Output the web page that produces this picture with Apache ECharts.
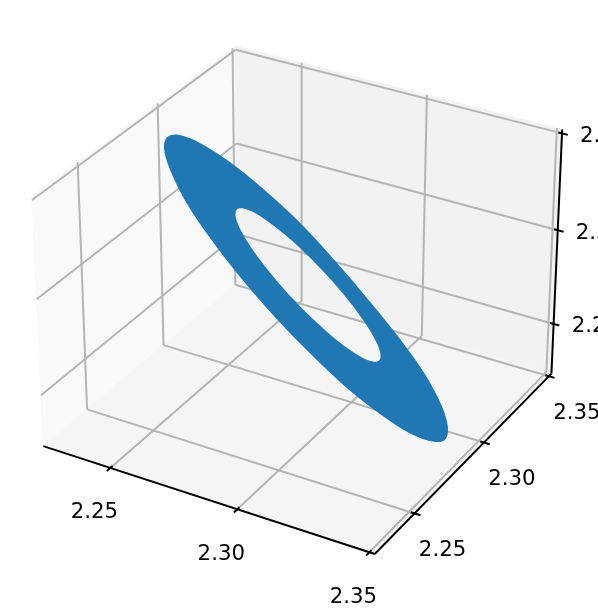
<!DOCTYPE html>
<html>
<head>
<meta charset="utf-8">
<style>
  html, body { margin: 0; padding: 0; background: #fff; }
  #chart { width: 598px; height: 609px; }
</style>
<script src="https://cdn.jsdelivr.net/npm/echarts@6/dist/echarts.min.js"></script>
</head>
<body>
<div id="chart"></div>
<script>
// tick values shared by the three axes
const xTicks = [2.25, 2.30, 2.35];
const yTicks = [2.25, 2.30, 2.35];
const zTicks = [2.25, 2.30, 2.35];
const xTickLabels = ['2.25', '2.30', '2.35'];
const yTickLabels = ['2.25', '2.30', '2.35'];
const zTickLabels = ['2.25', '2.30', '2.35'];
const axisMin = 2.2228;
const axisMax = 2.352;

// ring outline, on the hidden plane axes
const ringOuterX = [444.8, 447.9, 441.3, 425.5, 401.6, 371.1, 336.2, 299.3, 262.8, 229.3, 200.9, 179.7, 167.2, 164.1, 170.7, 186.5, 210.4, 240.9, 275.8, 312.7, 349.2, 382.7, 411.1, 432.3];
const ringOuterY = [440, 427, 404.8, 375, 341, 303, 262, 222, 188.4, 161.6, 143.4, 135, 137.1, 149.4, 171.2, 203, 238.5, 278, 318, 356, 390, 416, 434, 441.5];
const ringHoleX = [379, 380.5, 377, 368.7, 356.4, 340.8, 322.9, 304, 285.4, 268.3, 254, 243.3, 237, 235.5, 239, 247.3, 259.6, 275.2, 293.1, 312, 330.6, 347.7, 362, 372.7];
const ringHoleY = [360.5, 354.3, 343.4, 328.5, 310.7, 291.1, 271, 251.9, 235.1, 221.7, 212.6, 208.5, 209.5, 215.7, 226.6, 241.5, 259.3, 278.9, 299, 318.1, 334.9, 348.3, 357.4, 361.5];

const BLUE = '#1f77b4';
const GRID = '#b4b4b4';
const LINE_W = 2;
const FONT = '21.3px "DejaVu Sans"';
const tickIn = 0.0014;
const tickOut = 0.0022;

// same camera as a default mplot3d view: elev 30, azim -60, dist 10, box 4:4:3
const box = [1.143, 1.143, 0.857];
const camU = [0.866, 0.5, 0];
const camV = [-0.25, 0.433, 0.866];
const camW = [0.433, -0.75, 0.5];
const scaleX = 332.3, offX = 301.9, scaleY = 332.9, offY = 288.3;

function project(x, y, z) {
    const q = [x, y, z].map((v, i) => ((v - axisMin) / (axisMax - axisMin) - 0.5) * box[i]);
    const dot = (a) => a[0] * q[0] + a[1] * q[1] + a[2] * q[2];
    const f = 10 / (10 - dot(camW));
    return [offX + scaleX * dot(camU) * f, offY - scaleY * dot(camV) * f];
}

const lo = axisMin, hi = axisMax;

const panes = [
    { fill: '#f9f9f9', pts: [[lo, lo, lo], [lo, hi, lo], [lo, hi, hi], [lo, lo, hi]] },
    { fill: '#f2f2f2', pts: [[lo, hi, lo], [hi, hi, lo], [hi, hi, hi], [lo, hi, hi]] },
    { fill: '#f5f5f5', pts: [[lo, lo, lo], [hi, lo, lo], [hi, hi, lo], [lo, hi, lo]] }
];

const gridSegments = [];
xTicks.forEach(t => {
    gridSegments.push([[t, lo, lo], [t, hi, lo]], [[t, hi, lo], [t, hi, hi]]);
});
yTicks.forEach(t => {
    gridSegments.push([[lo, t, lo], [hi, t, lo]], [[lo, t, lo], [lo, t, hi]]);
});
zTicks.forEach(t => {
    gridSegments.push([[lo, lo, t], [lo, hi, t]], [[lo, hi, t], [hi, hi, t]]);
});

const axisSegments = [
    [[lo, lo, lo], [hi, lo, lo]],
    [[hi, lo, lo], [hi, hi, lo]],
    [[hi, hi, lo], [hi, hi, hi]]
];
xTicks.forEach(t => axisSegments.push([[t, lo - tickOut, lo], [t, lo + tickIn, lo]]));
yTicks.forEach(t => axisSegments.push([[hi - tickIn, t, lo], [hi + tickOut, t, lo]]));
zTicks.forEach(t => axisSegments.push([[hi - tickIn, hi, t], [hi + tickOut, hi, t]]));

const tickTexts = [];
xTicks.forEach((t, i) => tickTexts.push({ p: [t, lo, lo], text: xTickLabels[i], dx: -16, dy: 45, align: 'center' }));
yTicks.forEach((t, i) => tickTexts.push({ p: [hi, t, lo], text: yTickLabels[i], dx: 28, dy: 37, align: 'center' }));
zTicks.forEach((t, i) => tickTexts.push({ p: [hi, hi, t], text: zTickLabels[i], dx: 18, dy: 3, align: 'left' }));

// closed catmull-rom through the read points so the outline stays round
function smoothPath(xs, ys) {
    const n = xs.length;
    let d = `M${xs[0]} ${ys[0]}`;
    for (let i = 0; i < n; i++) {
        const p0 = [xs[(i - 1 + n) % n], ys[(i - 1 + n) % n]];
        const p1 = [xs[i], ys[i]];
        const p2 = [xs[(i + 1) % n], ys[(i + 1) % n]];
        const p3 = [xs[(i + 2) % n], ys[(i + 2) % n]];
        d += `C${p1[0] + (p2[0] - p0[0]) / 6} ${p1[1] + (p2[1] - p0[1]) / 6} ` +
            `${p2[0] - (p3[0] - p1[0]) / 6} ${p2[1] - (p3[1] - p1[1]) / 6} ${p2[0]} ${p2[1]}`;
    }
    return d + 'Z';
}

function segmentSeries(segments, color, z) {
    return {
        type: 'custom',
        coordinateSystem: 'cartesian2d',
        silent: true,
        clip: false,
        z: z,
        data: segments.map((s, i) => [i]),
        encode: { x: 0 },
        renderItem: function (params, api) {
            const seg = segments[params.dataIndex];
            const a = api.coord(project(seg[0][0], seg[0][1], seg[0][2]));
            const b = api.coord(project(seg[1][0], seg[1][1], seg[1][2]));
            return {
                type: 'line',
                shape: { x1: a[0], y1: a[1], x2: b[0], y2: b[1] },
                style: { stroke: color, lineWidth: LINE_W, lineCap: 'butt' }
            };
        }
    };
}

const chart = echarts.init(document.getElementById('chart'), null, { renderer: 'canvas' });

chart.setOption({
    animation: false,
    grid: { left: 0, right: 0, top: 0, bottom: 0 },
    xAxis: { type: 'value', min: 0, max: 598, show: false },
    yAxis: { type: 'value', min: 0, max: 609, inverse: true, show: false },
    series: [
        {
            type: 'custom',
            silent: true,
            clip: false,
            z: 1,
            data: panes.map((p, i) => [i]),
            encode: { x: 0 },
            renderItem: function (params, api) {
                const pane = panes[params.dataIndex];
                return {
                    type: 'polygon',
                    shape: { points: pane.pts.map(p => api.coord(project(p[0], p[1], p[2]))) },
                    style: { fill: pane.fill, stroke: pane.fill, lineWidth: 1 }
                };
            }
        },
        segmentSeries(gridSegments, GRID, 2),
        {
            type: 'custom',
            silent: true,
            clip: false,
            z: 3,
            data: [[0]],
            encode: { x: 0 },
            renderItem: function (params, api) {
                const toPix = (xs, ys) => {
                    const pts = xs.map((x, i) => api.coord([x, ys[i]]));
                    return smoothPath(pts.map(p => p[0]), pts.map(p => p[1]));
                };
                // hole runs the other way round so it stays empty when filled
                const holeX = ringHoleX.slice().reverse();
                const holeY = ringHoleY.slice().reverse();
                return {
                    type: 'path',
                    shape: { pathData: toPix(ringOuterX, ringOuterY) + toPix(holeX, holeY) },
                    style: { fill: BLUE }
                };
            }
        },
        segmentSeries(axisSegments, '#000', 4),
        {
            type: 'custom',
            silent: true,
            clip: false,
            z: 5,
            data: tickTexts.map((t, i) => [i]),
            encode: { x: 0 },
            renderItem: function (params, api) {
                const t = tickTexts[params.dataIndex];
                const c = api.coord(project(t.p[0], t.p[1], t.p[2]));
                return {
                    type: 'text',
                    style: {
                        text: t.text,
                        x: c[0] + t.dx,
                        y: c[1] + t.dy,
                        font: FONT,
                        fill: '#000',
                        align: t.align,
                        verticalAlign: 'middle'
                    }
                };
            }
        }
    ]
});
</script>
</body>
</html>
